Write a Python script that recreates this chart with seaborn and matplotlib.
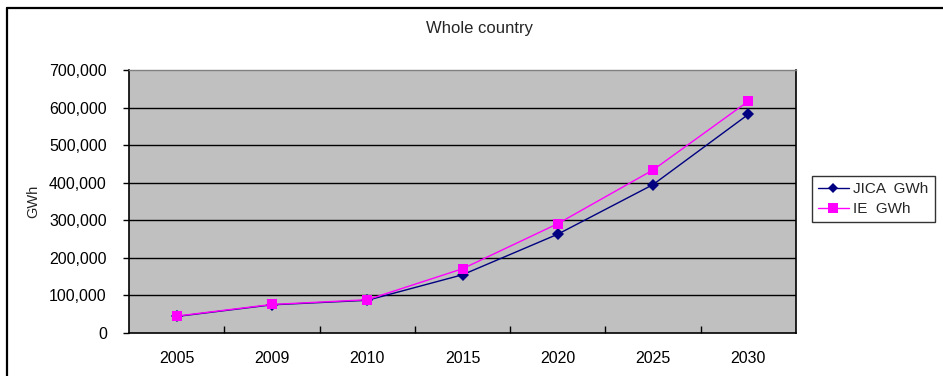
import matplotlib
matplotlib.use("Agg")
import matplotlib.pyplot as plt
from matplotlib.lines import Line2D
from matplotlib.ticker import FuncFormatter, MultipleLocator
import seaborn as sns
import pandas as pd

years = ["2005", "2009", "2010", "2015", "2020", "2025", "2030"]
jica_gwh = [44000, 75000, 87000, 155000, 263000, 395000, 582000]
ie_gwh = [45000, 76000, 88500, 171000, 291000, 434000, 617000]
series_names = ["JICA  GWh", "IE  GWh"]

df = pd.DataFrame({
    "year": years * 2,
    "gwh": jica_gwh + ie_gwh,
    "series": [series_names[0]] * len(years) + [series_names[1]] * len(years),
})

sns.set_theme(style="white")
plt.rcParams["font.family"] = ["Liberation Sans", "DejaVu Sans"]

fig = plt.figure(figsize=(9.43, 3.76), dpi=100)
ax = fig.add_axes([129 / 943, 1 - 333 / 376, (796 - 129) / 943, (333 - 70) / 376])
ax.set_facecolor("#C0C0C0")

sns.lineplot(
    data=df, x="year", y="gwh", hue="series", style="series",
    palette={series_names[0]: "#000080", series_names[1]: "#FF00FF"},
    markers={series_names[0]: "D", series_names[1]: "s"},
    dashes=False, markersize=6, linewidth=1.0, markeredgewidth=0,
    ax=ax, legend=False, sort=False,
)
# diamonds a touch smaller than squares
for line, ms in zip(ax.lines, [6, 7.5]):
    line.set_markersize(ms)

ax.set_xlim(-0.5, len(years) - 0.5)
ax.set_ylim(0, 700000)
ax.yaxis.set_major_locator(MultipleLocator(100000))
ax.yaxis.set_major_formatter(FuncFormatter(lambda v, p: f"{int(v):,}"))
for v in range(100000, 700000, 100000):
    ax.axhline(v, color="black", linewidth=1.0, zorder=0.5)

ax.set_xticks(range(len(years)))
ax.set_xticklabels(years)
ax.set_xticks([i + 0.5 for i in range(len(years) - 1)], minor=True)
ax.tick_params(axis="x", which="major", length=0, pad=13, labelsize=11.5, colors="black")
ax.tick_params(axis="x", which="minor", direction="in", length=5, width=1, color="black", bottom=True)
ax.tick_params(axis="y", which="major", direction="out", length=4, width=1, color="black",
               left=True, pad=12, labelsize=11.5, labelcolor="black")

ax.set_xlabel("")
ax.set_ylabel("GWh", fontsize=10.5, labelpad=6)

for side in ["left", "bottom", "right"]:
    ax.spines[side].set_color("black")
    ax.spines[side].set_linewidth(1.2)
ax.spines["top"].set_color("#808080")
ax.spines["top"].set_linewidth(1.0)

fig.text(480 / 943, 1 - 28 / 376, "Whole country", ha="center", va="center", fontsize=12)

handles = [
    Line2D([], [], color="#000080", marker="D", markersize=5.5, linewidth=1.0, markeredgewidth=0),
    Line2D([], [], color="#FF00FF", marker="s", markersize=7, linewidth=1.0, markeredgewidth=0),
]
leg = fig.legend(handles, series_names, loc="upper left",
                 bbox_to_anchor=(812 / 943, 1 - 176 / 376), borderaxespad=0,
                 frameon=True, fancybox=False,
                 fontsize=11, handlelength=2.0, borderpad=0.4, labelspacing=0.4,
                 handletextpad=0.3)
leg.get_frame().set_edgecolor("black")
leg.get_frame().set_linewidth(1.0)

# outer chart frame
fig.add_artist(Line2D([7 / 943, 1.0], [1 - 7.5 / 376] * 2, color="black", linewidth=1.6,
                      transform=fig.transFigure))
fig.add_artist(Line2D([7 / 943] * 2, [0.0, 1 - 7.5 / 376], color="black", linewidth=1.6,
                      transform=fig.transFigure))

fig.savefig("out.png", dpi=100)
